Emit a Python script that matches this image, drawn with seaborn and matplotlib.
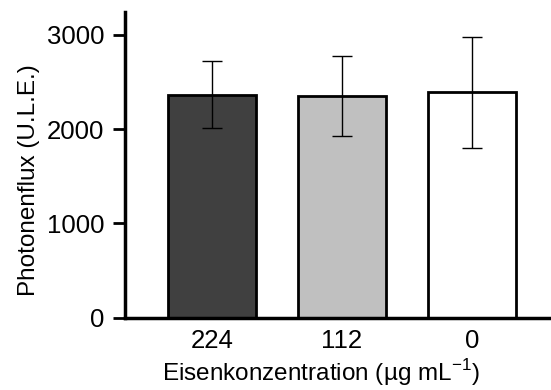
import matplotlib
matplotlib.use("Agg")
import matplotlib.pyplot as plt
import seaborn as sns
import pandas as pd

# Iron concentration groups and measured photon flux
concentrations = ["224", "112", "0"]
photon_flux = [2365, 2355, 2390]
flux_error = [357, 424, 587]
bar_colors = ["#404040", "#c0c0c0", "#ffffff"]

sns.set_theme(style="white")
plt.rcParams["font.family"] = ["Liberation Sans", "DejaVu Sans"]
plt.rcParams["mathtext.fontset"] = "custom"
plt.rcParams["mathtext.rm"] = "Liberation Sans"
plt.rcParams["text.color"] = "black"
plt.rcParams["axes.labelcolor"] = "black"
plt.rcParams["xtick.color"] = "black"
plt.rcParams["ytick.color"] = "black"

df = pd.DataFrame({"conc": concentrations, "flux": photon_flux})

fig = plt.figure(figsize=(5.51, 3.90), dpi=100)
ax = fig.add_axes([125 / 551, 72.3 / 390, (551 - 125) / 551, 305.7 / 390])

sns.barplot(data=df, x="conc", y="flux", order=concentrations,
            hue="conc", palette=bar_colors, legend=False,
            width=0.67, edgecolor="black", linewidth=2, errorbar=None, ax=ax)

ax.errorbar(range(len(concentrations)), photon_flux, yerr=flux_error,
            fmt="none", ecolor="black", elinewidth=1, capsize=7, capthick=1)

ax.set_xlim(-0.669, 2.608)
ax.set_ylim(0, 3242)
ax.set_yticks([0, 1000, 2000, 3000])

for side in ["top", "right"]:
    ax.spines[side].set_visible(False)
for side in ["left", "bottom"]:
    ax.spines[side].set_color("black")
    ax.spines[side].set_linewidth(2.5)

ax.tick_params(axis="y", direction="out", length=9, width=2, color="black",
               labelsize=18.5, pad=6, left=True, labelcolor="black")
ax.tick_params(axis="x", length=0, labelsize=18.5, pad=8, labelcolor="black")

ax.set_xlabel("Eisenkonzentration (µg mL$^{\\mathregular{-1}}$)", fontsize=17.5, labelpad=3)
ax.set_ylabel("Photonenflux (U.L.E.)", fontsize=17.5, labelpad=5)
ax.xaxis.label.set_x(0.46)
ax.yaxis.label.set_y(0.45)

fig.savefig("out.png", dpi=100)
